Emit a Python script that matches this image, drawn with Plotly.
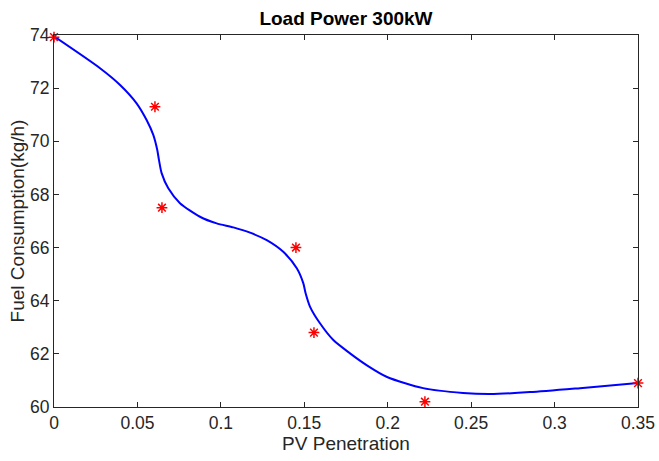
import plotly.graph_objects as go

# Measured data points (red asterisks)
pv_pts = [0.0, 0.0605, 0.0647, 0.145, 0.1558, 0.2223, 0.35]
fuel_pts = [73.92, 71.3, 67.5, 66.0, 62.8, 60.2, 60.9]

# Fitted curve
pv_curve = [0.0, 0.0276, 0.0396, 0.0495, 0.0555, 0.0595, 0.0619, 0.0629, 0.0645,
            0.0685, 0.0755, 0.0875, 0.0975, 0.1075, 0.1175, 0.1275, 0.1374, 0.1455,
            0.1494, 0.1508, 0.1534, 0.1594, 0.1674, 0.1774, 0.1880, 0.1996, 0.2212,
            0.2451, 0.2613, 0.2853, 0.3152, 0.35]
fuel_curve = [73.95, 72.75, 72.12, 71.43, 70.80, 70.24, 69.67, 69.30, 68.80,
              68.23, 67.67, 67.16, 66.91, 66.76, 66.56, 66.28, 65.84, 65.22,
              64.66, 64.28, 63.78, 63.15, 62.52, 62.02, 61.55, 61.13, 60.71,
              60.53, 60.49, 60.56, 60.71, 60.9]

x_ticks = [0, 0.05, 0.1, 0.15, 0.2, 0.25, 0.3, 0.35]
x_ticklabels = ["0", "0.05", "0.1", "0.15", "0.2", "0.25", "0.3", "0.35"]
y_ticks = [60, 62, 64, 66, 68, 70, 72, 74]

FONT = "Liberation Sans, Arial"
fig = go.Figure()
fig.add_trace(go.Scatter(x=pv_curve, y=fuel_curve, mode="lines",
                         line=dict(color="#0000ff", width=2, shape="spline", smoothing=0.7),
                         showlegend=False, hoverinfo="skip"))
fig.add_trace(go.Scatter(x=pv_pts, y=fuel_pts, mode="markers",
                         marker=dict(symbol="asterisk-open", size=9, color="#ff0000",
                                     line=dict(color="#ff0000", width=1.5)),
                         showlegend=False, cliponaxis=False))

axis_common = dict(showline=True, linecolor="#262626", linewidth=1, mirror="ticks",
                   ticks="inside", ticklen=5, tickcolor="#262626", showgrid=False,
                   zeroline=False, automargin=False,
                   tickfont=dict(family=FONT, size=17.5, color="#262626"))

fig.update_layout(
    width=659, height=461,
    margin=dict(l=54, r=21, t=35, b=54),
    paper_bgcolor="white", plot_bgcolor="white",
    title=dict(text="<b>Load Power 300kW</b>", x=0.525, xanchor="center", y=0.96, yanchor="middle",
               font=dict(family=FONT, size=19, color="black")),
    xaxis=dict(range=[0, 0.35], tickvals=x_ticks, ticktext=x_ticklabels,
               title=dict(text="PV Penetration", standoff=2,
                          font=dict(family=FONT, size=19, color="#262626")),
               **axis_common),
    yaxis=dict(range=[60, 74], tickvals=y_ticks,
               title=dict(text="Fuel Consumption(kg/h)", standoff=0,
                          font=dict(family=FONT, size=19, color="#262626")),
               **axis_common),
)

fig.write_html("out.html", config={"displayModeBar": False},
               post_script="document.body.style.margin='0';")
